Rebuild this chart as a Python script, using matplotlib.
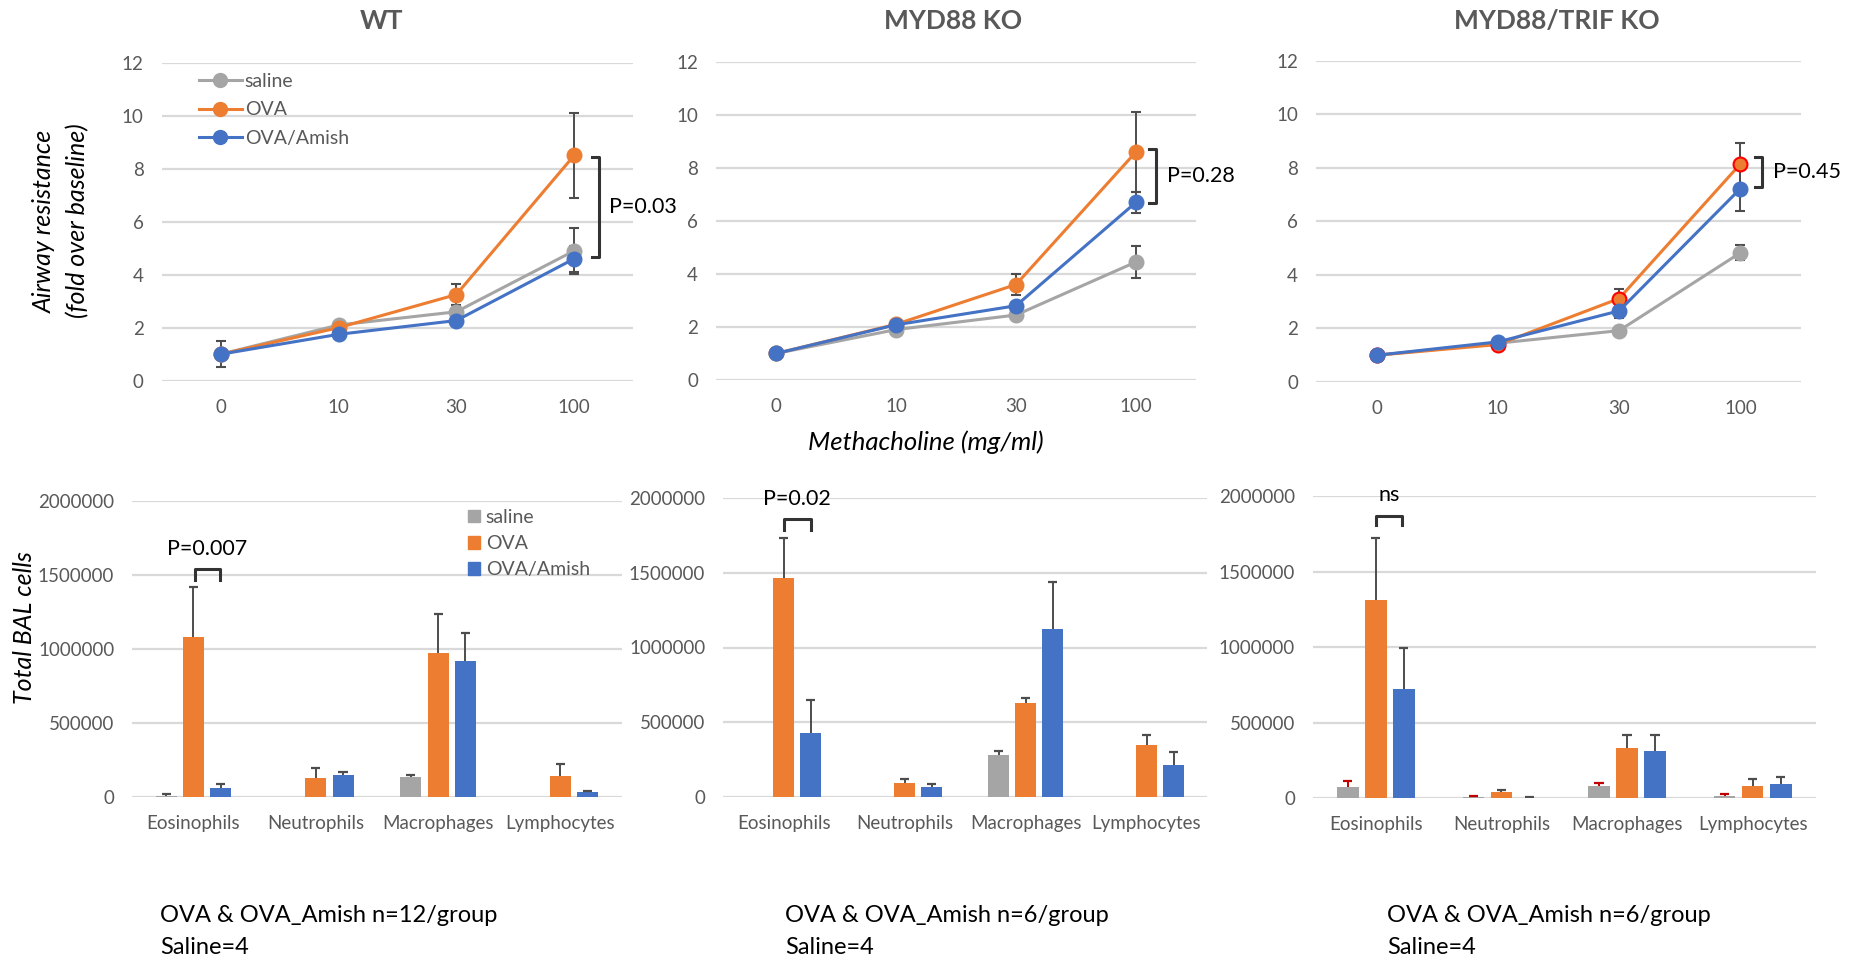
import matplotlib.pyplot as plt
import numpy as np
from matplotlib.lines import Line2D
from matplotlib.patches import Patch

plt.rcParams["font.family"] = ["Lato", "DejaVu Sans"]

doses = ["0", "10", "30", "100"]
cell_types = ["Eosinophils", "Neutrophils", "Macrophages", "Lymphocytes"]
groups = ["saline", "OVA", "OVA/Amish"]
strains = ["WT", "MYD88 KO", "MYD88/TRIF KO"]

# airway resistance (fold over baseline) per methacholine dose
wt_saline = [1.0, 2.1, 2.6, 4.9]
wt_saline_err = [0.5, 0.1, 0.25, 0.87]
wt_ova = [1.0, 2.0, 3.25, 8.5]
wt_ova_err = [0.1, 0.1, 0.4, 1.6]
wt_amish = [1.0, 1.75, 2.27, 4.6]
wt_amish_err = [0.1, 0.1, 0.1, 0.5]

myd_saline = [1.0, 1.9, 2.45, 4.45]
myd_saline_err = [0.05, 0.1, 0.1, 0.6]
myd_ova = [1.0, 2.1, 3.6, 8.6]
myd_ova_err = [0.05, 0.1, 0.38, 1.5]
myd_amish = [1.0, 2.08, 2.8, 6.7]
myd_amish_err = [0.05, 0.1, 0.15, 0.4]

trif_saline = [1.0, 1.45, 1.92, 4.83]
trif_saline_err = [0.05, 0.1, 0.1, 0.28]
trif_ova = [1.0, 1.4, 3.12, 8.15]
trif_ova_err = [0.05, 0.1, 0.37, 0.8]
trif_amish = [1.0, 1.5, 2.66, 7.23]
trif_amish_err = [0.05, 0.1, 0.25, 0.85]

# total BAL cells per cell type
wt_bal_saline = [5000, 0, 133000, 0]
wt_bal_saline_err = [10000, 0, 11000, 0]
wt_bal_ova = [1077000, 126000, 971000, 140000]
wt_bal_ova_err = [341000, 66000, 264000, 81000]
wt_bal_amish = [56000, 149000, 916000, 29000]
wt_bal_amish_err = [30000, 20000, 190000, 12000]

myd_bal_saline = [0, 0, 277000, 0]
myd_bal_saline_err = [0, 0, 31000, 0]
myd_bal_ova = [1464000, 89000, 626000, 349000]
myd_bal_ova_err = [272000, 29000, 38000, 64000]
myd_bal_amish = [425000, 63000, 1122000, 210000]
myd_bal_amish_err = [225000, 22000, 315000, 90000]

trif_bal_saline = [73000, 11000, 82000, 15000]
trif_bal_saline_err = [44000, 4000, 17000, 14000]
trif_bal_ova = [1310000, 40000, 335000, 79000]
trif_bal_ova_err = [414000, 15000, 84000, 51000]
trif_bal_amish = [721000, 4000, 313000, 93000]
trif_bal_amish_err = [276000, 7000, 106000, 50000]

# comparison OVA vs OVA/Amish: (label, upper, lower)
resistance_p = [("P=0.03", 8.45, 4.65), ("P=0.28", 8.7, 6.66), ("P=0.45", 8.4, 7.3)]
bal_p = ["P=0.007", "P=0.02", "ns"]
group_sizes = ["OVA & OVA_Amish n=12/group", "OVA & OVA_Amish n=6/group",
               "OVA & OVA_Amish n=6/group"]
saline_size = "Saline=4"

GRAY = "#A5A5A5"
ORANGE = "#ED7D31"
BLUE = "#4472C4"
GRID = "#D9D9D9"
TICK = "#595959"
ERR = "#4d4d4d"

W, H = 1854, 958
fig = plt.figure(figsize=(W / 100, H / 100), dpi=100)


def px_axes(x0, y0, x1, y1):
    return fig.add_axes([x0 / W, 1 - y1 / H, (x1 - x0) / W, (y1 - y0) / H])


def fig_text(x, y, s, **kw):
    return fig.text(x / W, 1 - y / H, s, **kw)


def style_axes(ax, labels):
    for s in ax.spines.values():
        s.set_visible(False)
    ax.grid(axis="y", color=GRID, lw=1.6)
    ax.set_axisbelow(True)
    ax.set_xlim(-0.5, 3.5)
    ax.set_xticks(range(4))
    ax.set_xticklabels(labels)
    ax.tick_params(length=0, labelsize=13.5, labelcolor=TICK, pad=13)


top_boxes = [(161.8, 62.7, 633, 380.7), (716, 61.7, 1196, 380), (1316, 61, 1801, 382)]
bottom_boxes = [(132.3, 501, 621.5, 796.7), (723.3, 498.3, 1207, 796.7),
                (1313, 496, 1815.5, 798.3)]
title_x = [382, 953, 1557]
note_x = [160, 785, 1387]

resistance = [
    [(wt_saline, wt_saline_err), (wt_ova, wt_ova_err), (wt_amish, wt_amish_err)],
    [(myd_saline, myd_saline_err), (myd_ova, myd_ova_err), (myd_amish, myd_amish_err)],
    [(trif_saline, trif_saline_err), (trif_ova, trif_ova_err), (trif_amish, trif_amish_err)],
]
bal = [
    [(wt_bal_saline, wt_bal_saline_err), (wt_bal_ova, wt_bal_ova_err),
     (wt_bal_amish, wt_bal_amish_err)],
    [(myd_bal_saline, myd_bal_saline_err), (myd_bal_ova, myd_bal_ova_err),
     (myd_bal_amish, myd_bal_amish_err)],
    [(trif_bal_saline, trif_bal_saline_err), (trif_bal_ova, trif_bal_ova_err),
     (trif_bal_amish, trif_bal_amish_err)],
]
colors = [GRAY, ORANGE, BLUE]
x = np.arange(len(doses))

# methacholine dose response
for k, box in enumerate(top_boxes):
    ax = px_axes(*box)
    style_axes(ax, doses)
    ax.set_ylim(0, 12)
    ax.set_yticks(range(0, 13, 2))
    for (vals, errs), color in zip(resistance[k], colors):
        edge = "red" if (k == 2 and color == ORANGE) else color
        ax.errorbar(x, vals, yerr=errs, color=color, lw=2.2, marker="o", ms=10,
                    mfc=color, mec=edge, mew=1.5, ecolor=ERR, elinewidth=1.4,
                    capsize=3.5, capthick=1.4)
    label, hi, lo = resistance_p[k]
    bx = [3.21, 3.165, 3.177][k]
    ax.plot([bx - 0.06, bx, bx, bx - 0.06], [hi, hi, lo, lo], color="#333333",
            lw=2.2, clip_on=False)
    ax.text(bx + 0.09, (hi + lo) / 2, label, fontsize=15.5, color="black",
            va="center", ha="left", clip_on=False)
    fig_text(title_x[k], 21, strains[k], fontsize=19, fontweight="bold",
             color=TICK, ha="center", va="center")
    if k == 0:
        handles = [Line2D([], [], color=c, lw=2.2, marker="o", ms=10) for c in colors]
        ax.legend(handles, groups, loc="upper left", frameon=False, fontsize=14,
                  labelcolor=TICK, bbox_to_anchor=(199 / W, 1 - 73 / H),
                  bbox_transform=fig.transFigure, borderpad=0, borderaxespad=0,
                  handlelength=2.2, handletextpad=0.15, labelspacing=0.59)

fig_text(44, 221, "Airway resistance", fontsize=18, style="italic",
         rotation=90, ha="center", va="center")
fig_text(77.5, 221, "(fold over baseline)", fontsize=18, style="italic",
         rotation=90, ha="center", va="center")
fig_text(926, 442, "Methacholine (mg/ml)", fontsize=18.5, style="italic",
         ha="center", va="center")

# BAL cell counts
offsets = [-0.223, 0.0, 0.223]
bar_w = 0.172
cap = 0.037
bracket_x = [(0.01, 0.22), (0.002, 0.222), (0.002, 0.209)]
bracket_y = [(1.538e6, 1.466e6), (1.861e6, 1.788e6), (1.868e6, 1.808e6)]
for k, box in enumerate(bottom_boxes):
    ax = px_axes(*box)
    style_axes(ax, cell_types)
    ax.set_ylim(0, 2000000)
    ax.set_yticks(range(0, 2000001, 500000))
    ax.set_yticklabels([str(v) for v in range(0, 2000001, 500000)])
    for i, ((vals, errs), color) in enumerate(zip(bal[k], colors)):
        vals = np.array(vals, dtype=float)
        errs = np.array(errs, dtype=float)
        xs = x + offsets[i]
        ax.bar(xs, vals, bar_w, color=color, zorder=2)
        ecol = "#C00000" if (k == 2 and color == GRAY) else ERR
        m = errs > 0
        ax.vlines(xs[m], vals[m], vals[m] + errs[m], color=ecol, lw=1.4, zorder=3)
        ax.hlines(vals[m] + errs[m], xs[m] - cap, xs[m] + cap, color=ecol,
                  lw=1.6, zorder=3)
    (x0, x1), (top, leg) = bracket_x[k], bracket_y[k]
    ax.plot([x0, x0, x1, x1], [leg, top, top, leg], color="#333333", lw=2.2,
            clip_on=False)
    ax.text((x0 + x1) / 2, top + 0.07e6, bal_p[k], fontsize=15.5, color="black",
            ha="center", va="bottom", clip_on=False)
    if k == 0:
        handles = [Patch(color=c) for c in colors]
        ax.legend(handles, groups, loc="upper left", frameon=False, fontsize=14,
                  labelcolor=TICK, bbox_to_anchor=(468 / W, 1 - 509 / H),
                  bbox_transform=fig.transFigure, borderpad=0, borderaxespad=0,
                  handlelength=0.62, handleheight=0.62, handletextpad=0.3,
                  labelspacing=0.47)
    fig_text(note_x[k], 916, group_sizes[k], fontsize=17, color="black",
             ha="left", va="center")
    fig_text(note_x[k], 947, saline_size, fontsize=17, color="black",
             ha="left", va="center")

fig_text(24.5, 628, "Total BAL cells", fontsize=18, style="italic",
         rotation=90, ha="center", va="center")

fig.savefig("out.png", dpi=100)
